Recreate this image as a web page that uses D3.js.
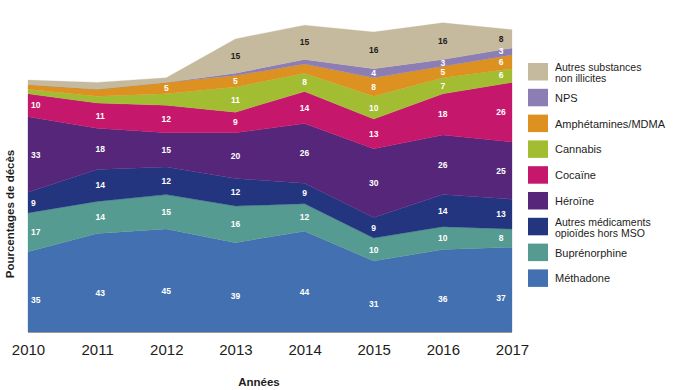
<!DOCTYPE html>
<html><head><meta charset="utf-8">
<script src="https://cdn.jsdelivr.net/npm/d3@7"></script>
<style>
body{margin:0;background:#fff;}
text{font-family:"Liberation Sans",Arial,sans-serif;}
</style></head>
<body><svg id="c" width="677" height="390"></svg>
<script>
const years = [2010, 2011, 2012, 2013, 2014, 2015, 2016, 2017];
// bottom to top
const seriesKeys = ["methadone","buprenorphine","autresMed","heroine","cocaine","cannabis","amphet","nps","autresSub"];
const methadone     = [35, 43, 45, 39, 44, 31, 36, 37];
const buprenorphine = [17, 14, 15, 16, 12, 10, 10, 8];
const autresMed     = [9, 14, 12, 12, 9, 9, 14, 13];
const heroine       = [33, 18, 15, 20, 26, 30, 26, 25];
const cocaine       = [10, 11, 12, 9, 14, 13, 18, 26];
const cannabis      = [2, 3, 5, 11, 8, 10, 7, 6];
const amphet        = [2, 3, 5, 5, 4, 8, 5, 6];
const nps           = [0, 0, 0, 1, 2, 4, 3, 3];
const autresSub     = [2, 3, 2, 15, 15, 16, 16, 8];
const seriesNames = ["Méthadone","Buprénorphine","Autres médicaments\nopioïdes hors MSO","Héroïne","Cocaïne","Cannabis","Amphétamines/MDMA","NPS","Autres substances\nnon illicites"];
const seriesColors = ["#4270b0","#559b91","#243580","#55267a","#c5176b","#a3bd33","#dc9120","#8c7db4","#c5b99e"];
const labelColors = ["#fff","#fff","#fff","#fff","#fff","#fff","#fff","#fff","#1d1d1b"];
// [seriesKey, yearIndex] pairs whose value is not printed
const hiddenLabels = [["cannabis",0],["amphet",0],["autresSub",0],["cannabis",1],["amphet",1],["autresSub",1],
  ["cannabis",2],["autresSub",2],["nps",3],["amphet",4],["nps",4],["nps",0],["nps",1],["nps",2]];
const xTitle = "Années";
const yTitle = "Pourcentages de décès";

const valuesByKey = {methadone, buprenorphine, autresMed, heroine, cocaine, cannabis, amphet, nps, autresSub};
const table = years.map((y,i)=>{const r={year:y}; seriesKeys.forEach(k=>r[k]=valuesByKey[k][i]); return r;});

const svg = d3.select("#c");
const x = d3.scaleLinear().domain([2010,2017]).range([28,512]);
const y = d3.scaleLinear().domain([0,100]).range([332,103]);

const stack = d3.stack().keys(seriesKeys)(table);
const area = d3.area().x(d=>x(d.data.year)).y0(d=>y(d[0])).y1(d=>y(d[1]));

svg.append("g").selectAll("path").data(stack).join("path")
  .attr("d", area).attr("fill",(d,i)=>seriesColors[i]).attr("stroke",(d,i)=>seriesColors[i]).attr("stroke-width",0.3);

// baseline
svg.append("line").attr("x1",x(2010)).attr("x2",x(2017)).attr("y1",y(0)+0.5).attr("y2",y(0)+0.5)
  .attr("stroke","#9a9a9a").attr("stroke-width",1);

// value labels
const hidden = new Set(hiddenLabels.map(d=>d[0]+"_"+d[1]));
const lg = svg.append("g").attr("font-size",8.5).attr("font-weight","bold");
stack.forEach((s,si)=>{
  s.forEach((d,i)=>{
    const v = d[1]-d[0];
    if (hidden.has(seriesKeys[si]+"_"+i)) return;
    const frac = si===0 ? 0.4 : 0.5;
    const yy = y(d[0] + v*frac);
    let xx = x(d.data.year), anchor="middle";
    if (i===0){xx = x(d.data.year)+3; anchor="start";}
    else if (i===years.length-1){xx = x(d.data.year)-11;}
    else if (i===1){xx += 3;}
    lg.append("text").attr("x",xx).attr("y",yy).attr("dy","0.35em").attr("text-anchor",anchor)
      .attr("fill",labelColors[si]).text(v);
  });
});

// x axis tick labels
const xAxis = d3.axisBottom(x).tickValues(years).tickFormat(d3.format("d")).tickSize(0).tickPadding(0);
const xg = svg.append("g").attr("transform","translate(0,344)").call(xAxis);
xg.select(".domain").remove();
xg.selectAll("text").attr("font-size",15).attr("fill","#1d1d1b").attr("font-family","'Liberation Sans',Arial,sans-serif");

// axis titles
svg.append("text").attr("x",259).attr("y",386).attr("text-anchor","middle").attr("font-size",11.5)
  .attr("font-weight","bold").attr("fill","#1d1d1b").text(xTitle);
svg.append("text").attr("transform","translate(14,214) rotate(-90)").attr("text-anchor","middle")
  .attr("font-size",11.5).attr("font-weight","bold").attr("fill","#1d1d1b").text(yTitle);

// legend (top to bottom)
const legOrder = d3.range(seriesKeys.length).reverse();
const leg = svg.append("g");
legOrder.forEach((si,row)=>{
  const cy = 72 + row*25.8;
  leg.append("rect").attr("x",528).attr("y",cy-9).attr("width",20).attr("height",17.5).attr("fill",seriesColors[si]);
  const lines = seriesNames[si].split("\n");
  if (lines.length===1){
    leg.append("text").attr("x",555).attr("y",cy+4).attr("font-size",11).attr("fill","#1d1d1b").text(lines[0]);
  } else {
    leg.append("text").attr("x",555).attr("y",cy-1).attr("font-size",10.5).attr("fill","#1d1d1b").text(lines[0]);
    leg.append("text").attr("x",555).attr("y",cy+10).attr("font-size",10.5).attr("fill","#1d1d1b").text(lines[1]);
  }
});
</script></body></html>
